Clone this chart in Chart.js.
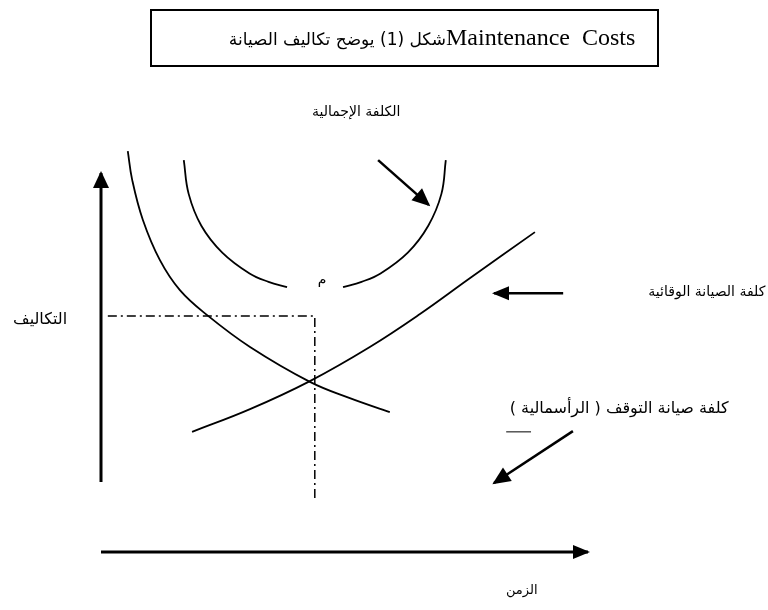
<!DOCTYPE html>
<html>
<head>
<meta charset="utf-8">
<script src="https://cdn.jsdelivr.net/npm/chart.js@4/dist/chart.umd.min.js"></script>
<style>
  body { margin: 0; background: #fff; }
  #wrap { width: 768px; height: 610px; }
</style>
</head>
<body>
<div id="wrap"><canvas id="myChart" width="768" height="610"></canvas></div>
<script>
// time (t) vs cost (c)
var preventiveT = [18.7, 30.6, 42.9, 55.2, 65.5, 75.8, 89.1];
var preventiveC = [31.7, 37.7, 45.1, 54.1, 62.8, 72.3, 84.4];
var breakdownT = [5.5, 6.4, 8.6, 12.1, 16.2, 21.8, 30.6, 42.9, 51.1, 59.3];
var breakdownC = [105.8, 98.2, 87.6, 77.0, 69.1, 62.5, 54.1, 44.9, 40.6, 36.9];
var totalLeftT = [17.0, 18.0, 20.6, 24.9, 30.5, 34.4, 38.2];
var totalLeftC = [103.4, 94.5, 86.1, 79.0, 73.5, 71.3, 69.9];
var totalRightT = [49.7, 53.5, 57.4, 63.0, 67.2, 69.9, 70.8];
var totalRightC = [69.9, 71.3, 73.5, 79.0, 86.1, 94.5, 103.4];
var optimumT = [1.4, 43.9, 43.9];
var optimumC = [62.3, 62.3, 13.7];

var axisYT = [0, 0], axisYC = [18.5, 100];
var axisXT = [0, 100], axisXC = [0, 0];
var arrowTotalT = [56.9, 67.3], arrowTotalC = [103.4, 91.6];
var arrowPrevT = [94.9, 80.7], arrowPrevC = [68.3, 68.3];
var arrowBreakT = [96.9, 80.7], arrowBreakC = [31.9, 18.2];
var tickT = [83.2, 88.3], tickC = [31.7, 31.7];

var labelTexts = ['الكلفة الإجمالية', 'التكاليف', 'كلفة الصيانة الوقائية',
    'كلفة صيانة التوقف ( الرأسمالية )', 'الزمن', 'م'];
var labelT = [52.4, -12.5, 124.4, 106.4, 86.4, 45.4];
var labelC = [116.1, 61.2, 68.6, 37.7, -10.3, 71.8];
var labelSize = [14, 16, 14, 16, 13, 14];

function pts(ts, cs) {
    return ts.map(function (t, i) { return { x: t, y: cs[i] }; });
}

function curve(ts, cs, extra) {
    var ds = {
        data: pts(ts, cs),
        showLine: true,
        borderColor: '#000',
        borderWidth: 1.8,
        pointRadius: 0,
        tension: 0.4,
        fill: false
    };
    for (var k in extra) ds[k] = extra[k];
    return ds;
}

var arabicFont = '"DejaVu Sans", sans-serif';

var drawingPlugin = {
    id: 'drawing',
    afterDatasetsDraw: function (chart) {
        var ctx = chart.ctx;
        var xs = chart.scales.x, ys = chart.scales.y;
        ctx.save();
        // arrow heads
        chart.data.datasets.forEach(function (ds) {
            if (!ds.arrowHead) return;
            var n = ds.data.length;
            var a = ds.data[n - 2], b = ds.data[n - 1];
            var x1 = xs.getPixelForValue(a.x), y1 = ys.getPixelForValue(a.y);
            var x2 = xs.getPixelForValue(b.x), y2 = ys.getPixelForValue(b.y);
            var ang = Math.atan2(y2 - y1, x2 - x1);
            var len = ds.arrowHead[0], half = ds.arrowHead[1];
            ctx.fillStyle = '#000';
            ctx.beginPath();
            ctx.moveTo(x2 + Math.cos(ang) * 2, y2 + Math.sin(ang) * 2);
            ctx.lineTo(x2 - Math.cos(ang) * len - Math.sin(ang) * half,
                       y2 - Math.sin(ang) * len + Math.cos(ang) * half);
            ctx.lineTo(x2 - Math.cos(ang) * len + Math.sin(ang) * half,
                       y2 - Math.sin(ang) * len - Math.cos(ang) * half);
            ctx.closePath();
            ctx.fill();
        });
        // arabic notes
        ctx.fillStyle = '#000';
        ctx.textAlign = 'center';
        ctx.textBaseline = 'middle';
        ctx.direction = 'rtl';
        labelTexts.forEach(function (txt, i) {
            ctx.font = labelSize[i] + 'px ' + arabicFont;
            ctx.fillText(txt, xs.getPixelForValue(labelT[i]), ys.getPixelForValue(labelC[i]));
        });
        // title box
        ctx.lineWidth = 2;
        ctx.strokeStyle = '#000';
        ctx.strokeRect(151, 10, 507, 56);
        ctx.textBaseline = 'alphabetic';
        ctx.textAlign = 'right';
        ctx.direction = 'rtl';
        ctx.font = '17px ' + arabicFont;
        ctx.fillText('شكل (1) يوضح تكاليف الصيانة', 446, 45);
        ctx.direction = 'ltr';
        ctx.textAlign = 'left';
        ctx.font = '24px "Liberation Serif", serif';
        ctx.fillText('Maintenance  Costs', 446, 45);
        ctx.restore();
    }
};

var config = {
    type: 'scatter',
    data: {
        datasets: [
            curve(preventiveT, preventiveC),
            curve(breakdownT, breakdownC),
            curve(totalLeftT, totalLeftC),
            curve(totalRightT, totalRightC),
            curve(optimumT, optimumC, { tension: 0, borderWidth: 1.5, borderDash: [9, 4, 2, 4] }),
            curve(axisYT, axisYC, { tension: 0, borderWidth: 3, arrowHead: [15, 8] }),
            curve(axisXT, axisXC, { tension: 0, borderWidth: 3, arrowHead: [15, 7] }),
            curve(arrowTotalT, arrowTotalC, { tension: 0, borderWidth: 2.5, arrowHead: [16, 8] }),
            curve(arrowPrevT, arrowPrevC, { tension: 0, borderWidth: 2.5, arrowHead: [15, 7] }),
            curve(arrowBreakT, arrowBreakC, { tension: 0, borderWidth: 2.5, arrowHead: [16, 8] }),
            curve(tickT, tickC, { tension: 0, borderWidth: 1 })
        ]
    },
    options: {
        responsive: false,
        animation: false,
        layout: { padding: 0 },
        plugins: {
            legend: { display: false },
            title: { display: false },
            tooltip: { enabled: false }
        },
        scales: {
            x: { type: 'linear', display: false, min: -20.74, max: 136.96 },
            y: { type: 'linear', display: false, min: -15.3, max: 145.65 }
        }
    },
    plugins: [drawingPlugin]
};

window.onload = function () {
    var ctx = document.getElementById('myChart');
    window.costChart = new Chart(ctx, config);
};
</script>
</body>
</html>
